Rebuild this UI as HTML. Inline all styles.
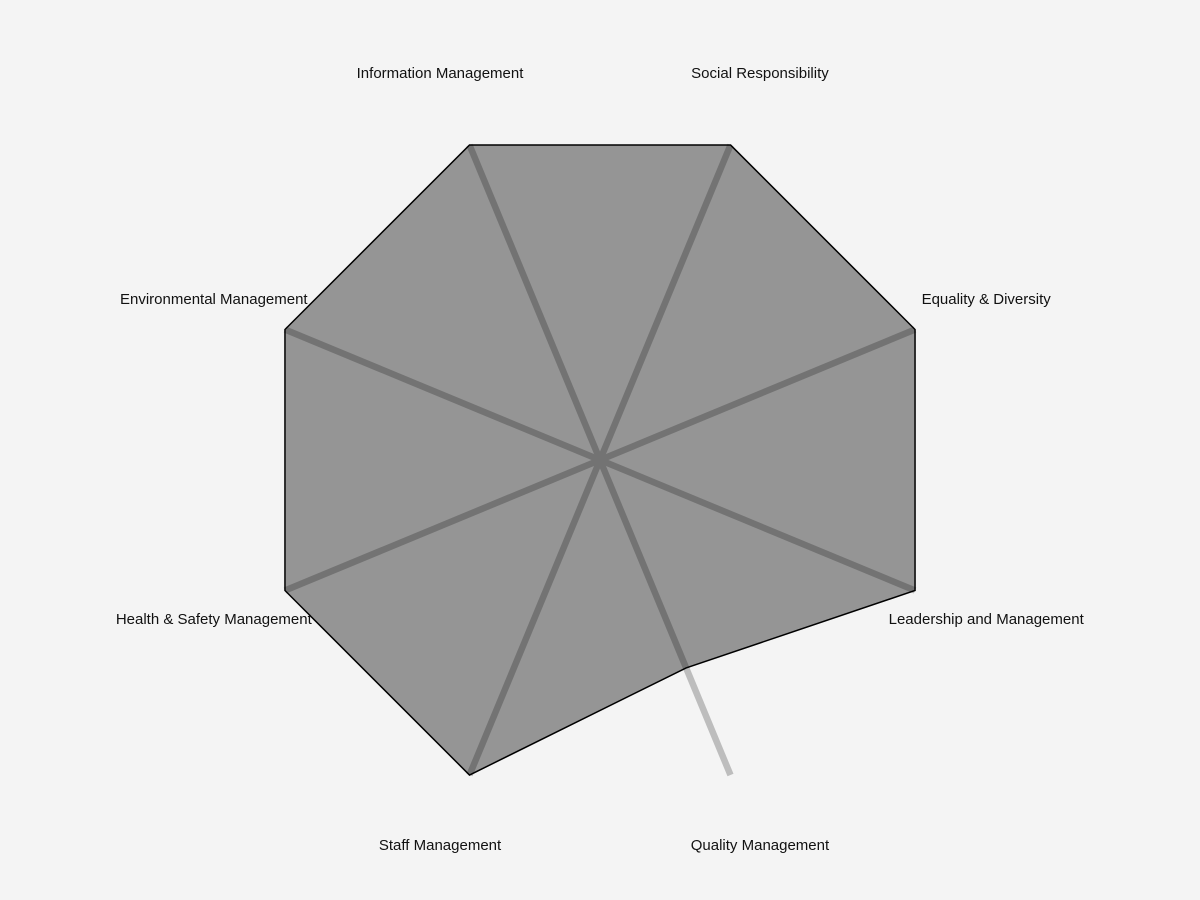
<!DOCTYPE html>
<html><head><meta charset="utf-8"><style>
html,body{margin:0;padding:0;background:#f4f4f4;}
svg{display:block;font-family:"Liberation Sans",sans-serif;}
</style></head><body>
<svg id="chart" width="1200" height="900">
<rect width="1200" height="900" fill="#f4f4f4"/>
<g id="spokes"></g><g id="area"></g><g id="labels"></g>
</svg>
<script>
const categories=["Social Responsibility","Equality & Diversity","Leadership and Management","Quality Management","Staff Management","Health & Safety Management","Environmental Management","Information Management"];
const values=[5,5,5,3.3,5,5,5,5];
const maxValue=5;
const cx=600,cy=460,R=341,LR=418;
const NS="http://www.w3.org/2000/svg";
function ang(i){return (22.5+45*i)*Math.PI/180;}
function pt(i,r){return [cx+r*Math.sin(ang(i)),cy-r*Math.cos(ang(i))];}
const spokes=document.getElementById('spokes');
const area=document.getElementById('area');
const labels=document.getElementById('labels');
categories.forEach((c,i)=>{
  const [x,y]=pt(i,R);
  const l=document.createElementNS(NS,'line');
  l.setAttribute('x1',cx);l.setAttribute('y1',cy);l.setAttribute('x2',x);l.setAttribute('y2',y);
  l.setAttribute('stroke','#bdbdbd');l.setAttribute('stroke-width','6.5');
  
  
  spokes.appendChild(l);
  const [tx,ty]=pt(i,LR);
  const t=document.createElementNS(NS,'text');
  t.setAttribute('x',tx);t.setAttribute('y',ty);
  t.setAttribute('text-anchor','middle');t.setAttribute('dominant-baseline','middle');
  t.setAttribute('font-size','15');t.setAttribute('fill','#111');
  t.textContent=c;
  
  
  labels.appendChild(t);
});
const pts=values.map((v,i)=>pt(i,R*v/maxValue).join(',')).join(' ');
const poly=document.createElementNS(NS,'polygon');
poly.setAttribute('points',pts);
poly.setAttribute('fill','rgba(0,0,0,0.39)');
poly.setAttribute('stroke','#000');poly.setAttribute('stroke-width','1.5');


area.appendChild(poly);
</script>
</body></html>
